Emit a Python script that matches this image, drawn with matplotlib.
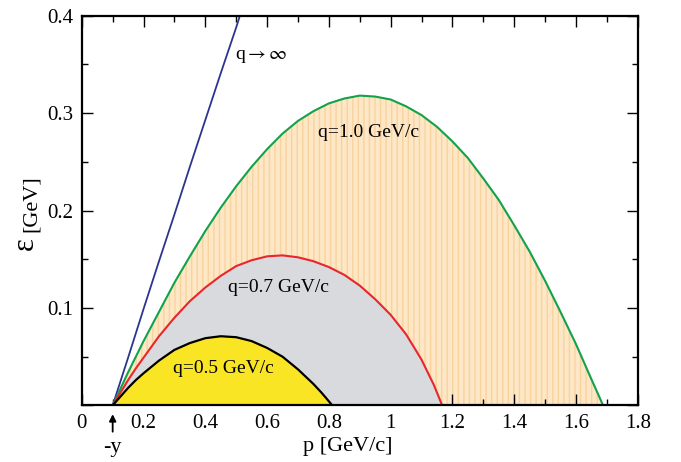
import matplotlib
matplotlib.use("Agg")
import matplotlib.pyplot as plt
from matplotlib.ticker import MultipleLocator

plt.rcParams['font.family'] = ['Liberation Serif', 'DejaVu Serif']
plt.rcParams['mathtext.fontset'] = 'stix'

# q -> infinity boundary
p_inf = [0.1, 0.15, 0.2, 0.25, 0.3, 0.35, 0.4, 0.45, 0.5, 0.512]
e_inf = [0.0, 0.049, 0.099, 0.148, 0.196, 0.245, 0.293, 0.341, 0.388, 0.400]

# q = 1.0 GeV/c
p_q10 = [0.1, 0.125, 0.15, 0.175, 0.2, 0.25, 0.3, 0.35, 0.4, 0.45, 0.5,
         0.55, 0.6, 0.65, 0.7, 0.75, 0.8, 0.85, 0.9, 0.95, 1.0, 1.05,
         1.1, 1.15, 1.2, 1.25, 1.3, 1.35, 1.4, 1.45, 1.5, 1.55, 1.6,
         1.65, 1.688]
e_q10 = [0.0, 0.017, 0.034, 0.050, 0.066, 0.096, 0.126, 0.153, 0.179,
         0.203, 0.225, 0.245, 0.263, 0.279, 0.292, 0.302, 0.310, 0.315,
         0.318, 0.317, 0.314, 0.307, 0.298, 0.286, 0.271, 0.254, 0.233,
         0.211, 0.185, 0.158, 0.128, 0.096, 0.063, 0.027, 0.0]

# q = 0.7 GeV/c
p_q07 = [0.1, 0.125, 0.15, 0.175, 0.2, 0.25, 0.3, 0.35, 0.4, 0.45, 0.5,
         0.55, 0.6, 0.65, 0.7, 0.75, 0.8, 0.85, 0.9, 0.95, 1.0, 1.05,
         1.1, 1.14, 1.167]
e_q07 = [0.0, 0.013, 0.026, 0.038, 0.049, 0.071, 0.090, 0.107, 0.121,
         0.133, 0.143, 0.149, 0.153, 0.154, 0.152, 0.148, 0.142, 0.134,
         0.123, 0.109, 0.093, 0.073, 0.047, 0.021, 0.0]

# q = 0.5 GeV/c
p_q05 = [0.1, 0.125, 0.15, 0.175, 0.2, 0.25, 0.3, 0.35, 0.4, 0.45, 0.5,
         0.55, 0.6, 0.65, 0.7, 0.75, 0.775, 0.79, 0.811]
e_q05 = [0.0, 0.009, 0.018, 0.026, 0.033, 0.046, 0.057, 0.064, 0.069,
         0.071, 0.070, 0.066, 0.059, 0.050, 0.037, 0.022, 0.0135, 0.008,
         0.0]

x_ticks = [0, 0.2, 0.4, 0.6, 0.8, 1.0, 1.2, 1.4, 1.6, 1.8]
y_ticks = [0.1, 0.2, 0.3, 0.4]

fig = plt.figure(figsize=(6.81, 4.62), dpi=100)
ax = fig.add_axes([0.1201, 0.1225, 0.8163, 0.8435])

# shaded regions, back to front
ax.fill_between(p_q10, e_q10, 0, color='#fde7c6', lw=0, zorder=1)
ax.fill_between(p_q10, e_q10, 0, facecolor='none', edgecolor='#f8d39e',
                hatch='|||', lw=0, zorder=1)
ax.fill_between(p_q07, e_q07, 0, color='#d9dadd', lw=0, zorder=2)
ax.fill_between(p_q05, e_q05, 0, color='#fae525', lw=0, zorder=3)

ax.plot(p_inf, e_inf, color='#2b3590', lw=1.3, zorder=4)
ax.plot(p_q10, e_q10, color='#12a24a', lw=1.5, zorder=4)
ax.plot(p_q07, e_q07, color='#e8262b', lw=1.5, zorder=4)
ax.plot(p_q05, e_q05, color='black', lw=1.6, zorder=4)

ax.text(0.496, 0.358, r'q$\rightarrow\infty$', fontsize=14, va='center',
        ha='left')
ax.text(0.765, 0.280, 'q=1.0 GeV/c', fontsize=14, va='center')
ax.text(0.473, 0.1215, 'q=0.7 GeV/c', fontsize=14, va='center')
ax.text(0.295, 0.038, 'q=0.5 GeV/c', fontsize=14, va='center', zorder=5)

ax.set_xlim(0, 1.8)
ax.set_ylim(0, 0.4)
ax.xaxis.set_minor_locator(MultipleLocator(0.1))
ax.yaxis.set_minor_locator(MultipleLocator(0.05))
ax.set_xticks(x_ticks)
ax.set_xticklabels(['%g' % v for v in x_ticks])
ax.set_yticks([0] + y_ticks)
ax.set_yticklabels([''] + ['%g' % v for v in y_ticks])
ax.tick_params(which='both', direction='in', top=True, right=True,
               labelsize=15, width=1.0)
ax.tick_params(which='major', length=8, pad=6)
ax.tick_params(which='minor', length=4)
for s in ax.spines.values():
    s.set_linewidth(1.6)
    s.set_zorder(6)

# -y marker below the axis
ax.annotate('', xy=(0.1, -0.009), xytext=(0.1, -0.027),
            arrowprops=dict(arrowstyle='-|>', lw=1.3, color='black',
                            mutation_scale=10, shrinkA=0, shrinkB=0),
            annotation_clip=False)
ax.text(0.1, -0.043, '-y', fontsize=16, ha='center', va='center',
        clip_on=False)

ax.text(0.86, -0.042, 'p [GeV/c]', fontsize=16, ha='center', va='center',
        clip_on=False)
ax.text(-0.091, 0.517, '[GeV]', fontsize=16, rotation=90, ha='center',
        va='center', transform=ax.transAxes)
ax.text(-0.102, 0.416, 'ε', fontsize=22, rotation=90, ha='center',
        va='center', transform=ax.transAxes)

fig.savefig('out.png', dpi=100)
